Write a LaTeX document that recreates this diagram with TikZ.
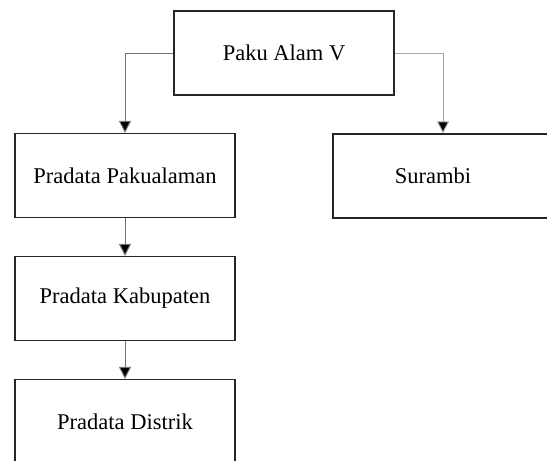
\documentclass[tikz,border=0pt]{standalone}
\usepackage{fontspec}
\setmainfont{Liberation Serif}
\usetikzlibrary{arrows.meta}
\tikzset{
  orgbox/.style={draw=black!85, line width=1.3pt, minimum width=220pt, minimum height=84pt, inner sep=0pt, font=\fontsize{22.5pt}{26pt}\selectfont},
  conn/.style={draw=black!55, line width=1pt, -{Triangle[width=12pt,length=12pt,fill=black]}},
}
\begin{document}
\begin{tikzpicture}[x=1pt,y=-1pt]
\useasboundingbox (0,0) rectangle (547,461);
\clip (0,0) rectangle (547,461);
\fill[white] (0,0) rectangle (547,461);
\node[orgbox] (paku) at (284,53) {Paku Alam V};
\node[orgbox] (pakual) at (125,175.5) {Pradata Pakualaman};
\node[orgbox] (sur) at (443,176) {\hspace*{-20pt}Surambi};
\node[orgbox] (kab) at (125,298.5) {Pradata Kabupaten};
\node[orgbox] (dist) at (125,421.5) {Pradata Distrik};
\draw[conn] (paku.west) -| (pakual.north);
\draw[conn, draw=black!35] (paku.east) -| (sur.north);
\draw[conn] (pakual.south) -- (kab.north);
\draw[conn] (kab.south) -- (dist.north);
\end{tikzpicture}
\end{document}
